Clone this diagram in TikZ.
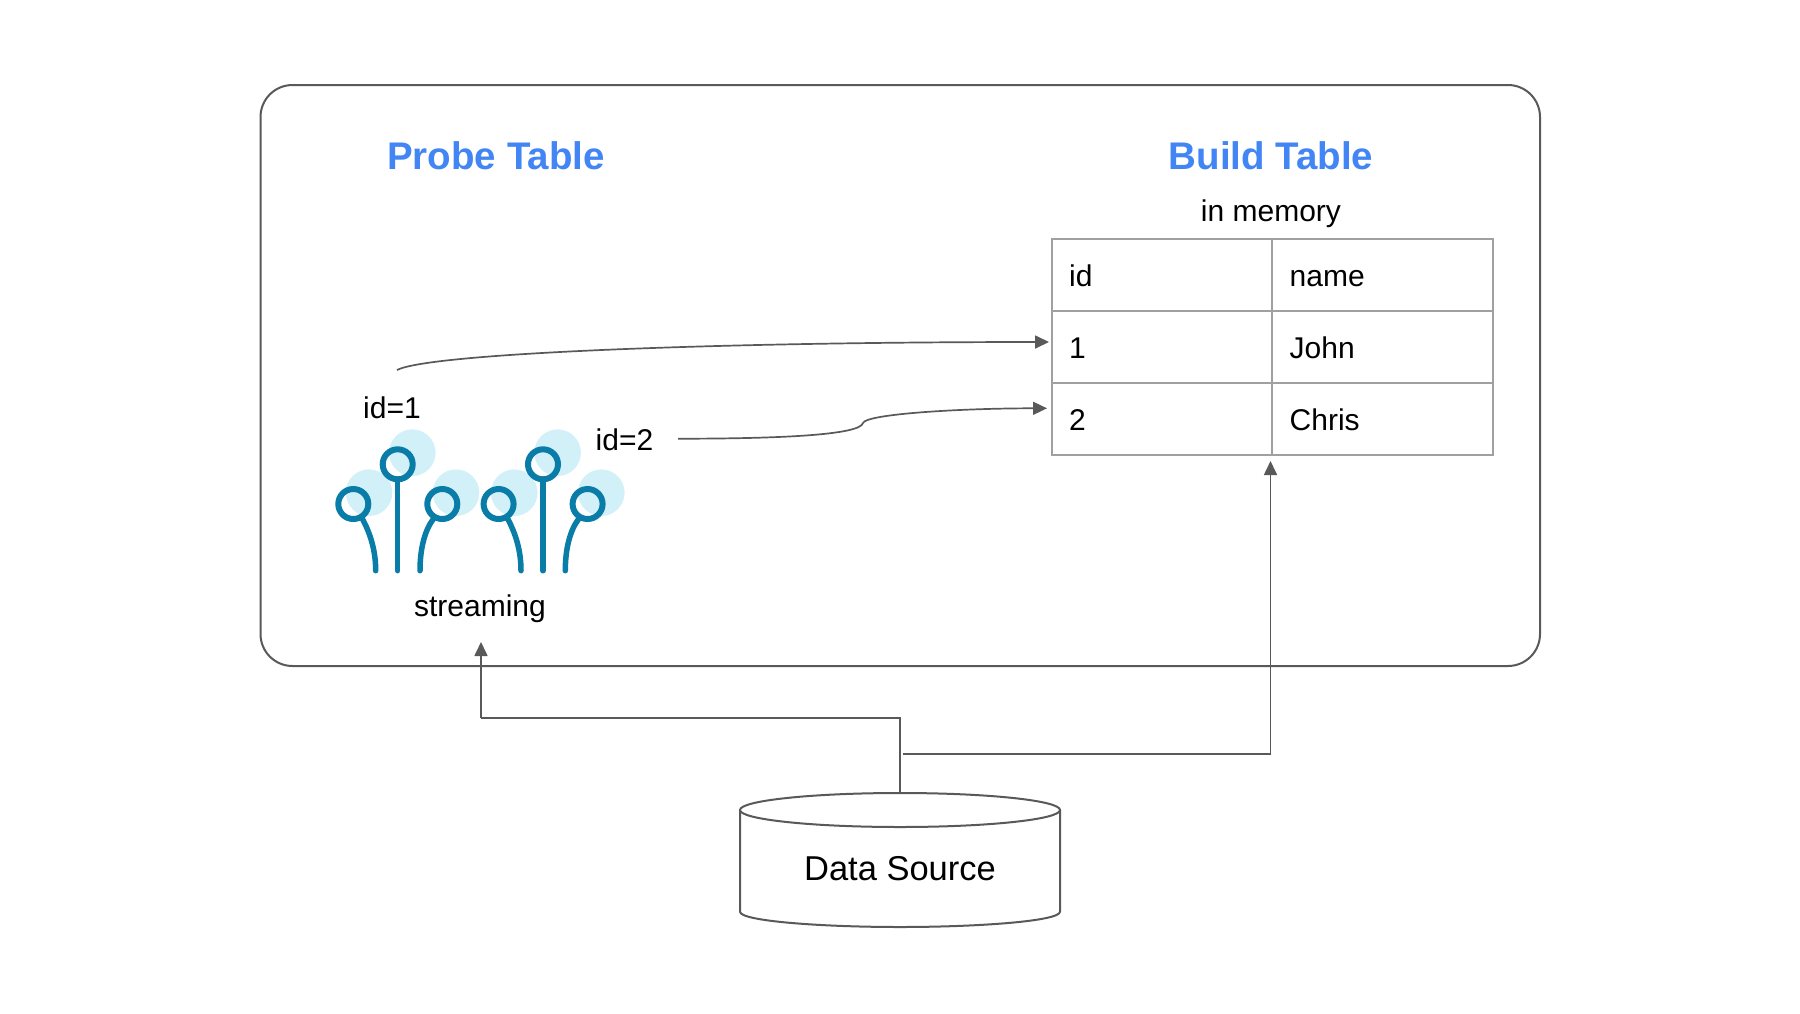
\documentclass[tikz,border=0pt]{standalone}
\usepackage{fontspec}
\setmainfont{Liberation Sans}
\usetikzlibrary{arrows.meta}
\definecolor{ln}{HTML}{595959}
\definecolor{grid}{HTML}{A0A0A0}
\definecolor{ttl}{HTML}{4285F4}
\definecolor{ring}{HTML}{0A7CA8}
\definecolor{halo}{HTML}{D2F0F8}
\tikzset{
  x=1pt,y=-1pt,
  conn/.style={draw=ln,line width=1.7pt},
  arrowed/.style={conn,-{Triangle[length=14pt,width=13pt]}},
  title/.style={font=\fontsize{38.5}{44}\selectfont\bfseries,text=ttl,inner sep=0pt},
  lbl/.style={font=\fontsize{30}{36}\selectfont,text=black,inner sep=0pt},
  cell/.style={draw=grid,line width=2pt,rectangle,inner sep=0pt,outer sep=0pt,anchor=north west},
  celltxt/.style={lbl,anchor=base west},
  haloc/.style={fill=halo,draw=none},
  ringc/.style={draw=ring,line width=6pt,fill=none},
  stem/.style={draw=ring,line width=5.5pt,line cap=round},
  cyl/.style={draw=ln,line width=2pt,fill=white},
}
\begin{document}
\begin{tikzpicture}
\useasboundingbox (0,0) rectangle (1800,1013);
\fill[white] (0,0) rectangle (1800,1013);
% frame
\node[draw=ln,line width=2pt,rectangle,rounded corners=32pt,minimum width=1279.5pt,minimum height=581pt,inner sep=0pt,outer sep=0pt,anchor=north west] (frame) at (260.5,85) {};
% titles
\node[title] (probe) at (496,156) {Probe Table};
\node[title] (build) at (1271,156) {Build Table};
\node[lbl] (mem) at (1271,214) {in memory};
% table
\foreach \nm/\xx/\yy/\ww/\hh in {c11/1051.5/239/220.5/71.8,c12/1272/239/220.5/71.8,c21/1051.5/310.8/220.5/72,c22/1272/310.8/220.5/72,c31/1051.5/382.8/220.5/72,c32/1272/382.8/220.5/72}
  \node[cell,minimum width=\ww pt,minimum height=\hh pt] (\nm) at (\xx,\yy) {};
\node[celltxt] (t11) at (1069,286) {id};
\node[celltxt] (t12) at (1289.5,286) {name};
\node[celltxt] (t21) at (1069,358) {1};
\node[celltxt] (t22) at (1289.5,358) {John};
\node[celltxt] (t31) at (1069,430) {2};
\node[celltxt] (t32) at (1289.5,430) {Chris};
% streaming icon
\foreach \dx in {0,145.3}{
  \begin{scope}[xshift=\dx pt]
    \fill[haloc] (369,492.7) circle[radius=23.3];
    \fill[haloc] (412.3,452.7) circle[radius=23.3];
    \fill[haloc] (456,492.7) circle[radius=23.3];
    \draw[ringc] (353.3,504) circle[radius=15];
    \draw[ringc] (397.7,464.3) circle[radius=15];
    \draw[ringc] (442.3,504) circle[radius=15];
    \draw[stem] (362.5,519) .. controls (370,533) and (375.7,550) .. (375.7,570.7);
    \draw[stem] (397.7,482) -- (397.7,570.7);
    \draw[stem] (433.3,519) .. controls (425,530) and (420,548) .. (420,570.7);
  \end{scope}
}
\node[lbl] (id1) at (392,407.5) {id=1};
\node[lbl] (id2) at (624.5,439.5) {id=2};
\node[lbl] (stream) at (480,608.5) {streaming};
% data source
\draw[cyl] (740,810) -- (740,911.7) .. controls (740,921) and (820,927) .. (900,927) .. controls (980,927) and (1060,921) .. (1060,911.7) -- (1060,810);
\draw[cyl] (900,810) ellipse[x radius=160,y radius=17];
\node[inner sep=0pt,minimum width=320pt,minimum height=134pt] (src) at (900,860) {};
\node[font=\fontsize{34.5}{40}\selectfont,inner sep=0pt] (srctxt) at (900,869) {Data Source};
% connector ends
\coordinate (a1s) at (397,370);
\coordinate (a1e) at (1049,342);
\coordinate (a2s) at (678,438.7);
\coordinate (a2k) at (863,423);
\coordinate (a2e) at (1047,408.3);
\coordinate (up1) at (481,642);
\coordinate (up1c) at (481,717.7);
\coordinate (up2) at (1270.5,461);
\coordinate (j) at (902.5,754);
% connectors
\draw[arrowed] (a1s) .. controls (430,353) and (720,342) .. (a1e);
\draw[arrowed] (a2s) .. controls (780,438.7) and (860,435) .. (a2k) .. controls (866,414) and (960,408.3) .. (a2e);
\draw[conn] (src.north) |- (up1c);
\draw[arrowed] (up1c) -- (up1);
\draw[arrowed] (j) -| (up2);
\end{tikzpicture}
\end{document}
